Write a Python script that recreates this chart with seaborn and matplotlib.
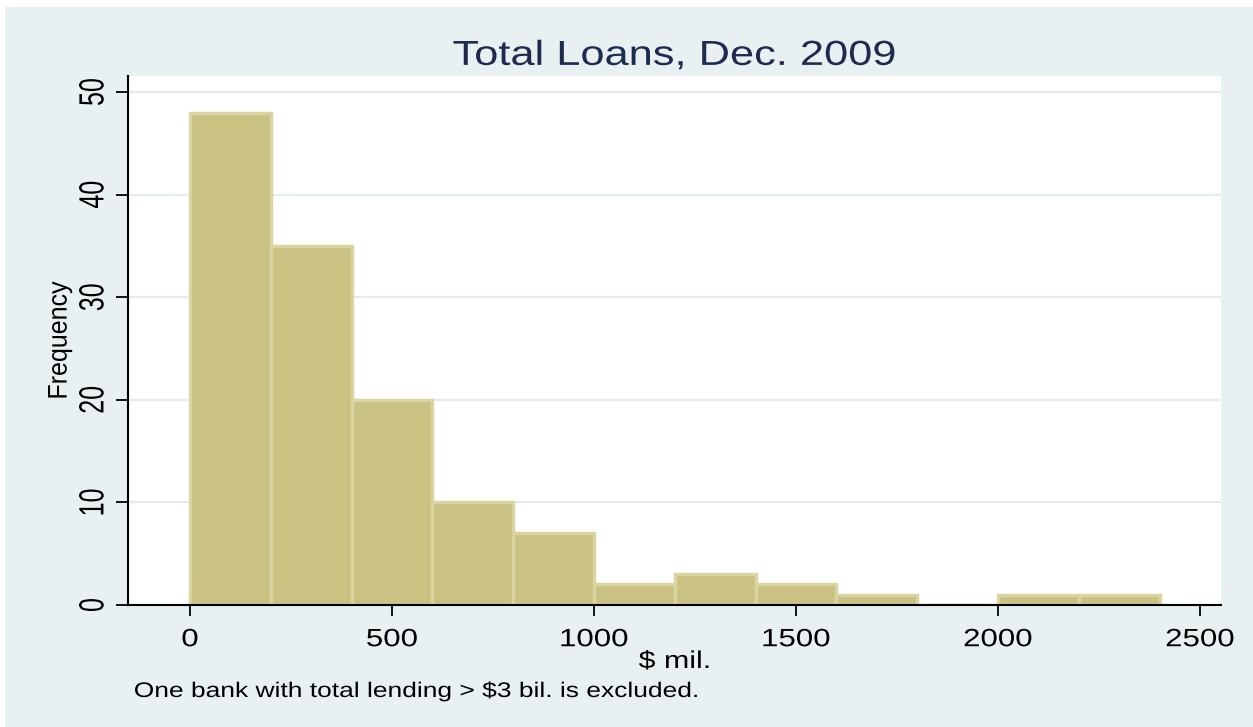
import numpy as np
import pandas as pd
import matplotlib
matplotlib.use("Agg")
import matplotlib.pyplot as plt
import seaborn as sns
from matplotlib.patheffects import AbstractPathEffect
from matplotlib.transforms import Affine2D
from matplotlib.patches import Rectangle

# ---- data ----
bin_edges = [0, 200, 400, 600, 800, 1000, 1200, 1400, 1600, 1800, 2000, 2200, 2400]
counts = [48, 35, 20, 10, 7, 2, 3, 2, 1, 0, 1, 1]
x_ticks = [0, 500, 1000, 1500, 2000, 2500]
y_ticks = [0, 10, 20, 30, 40, 50]
title = "Total Loans, Dec. 2009"
x_label = "$ mil."
y_label = "Frequency"
note = "One bank with total lending > $3 bil. is excluded."

mids = [(a + b) / 2 for a, b in zip(bin_edges[:-1], bin_edges[1:])]
df = pd.DataFrame({"loans": mids, "n": counts})


class HStretch(AbstractPathEffect):
    """Stretch rendered text horizontally (the reference is horizontally stretched)."""
    def __init__(self, sx=1.25, anchor="center"):
        super().__init__()
        self.sx = sx
        self.anchor = anchor

    def draw_path(self, renderer, gc, tpath, affine, rgbFace=None):
        ext = tpath.get_extents(affine)
        if self.anchor == "left":
            cx = ext.x0
        elif self.anchor == "right":
            cx = ext.x1
        else:
            cx = (ext.x0 + ext.x1) / 2
        t = affine + Affine2D().translate(-cx, 0).scale(self.sx, 1).translate(cx, 0)
        renderer.draw_path(gc, tpath, t, rgbFace)


sns.set_style("ticks")
plt.rcParams["font.family"] = ["Liberation Sans", "DejaVu Sans"]

W, H = 1253, 727
fig = plt.figure(figsize=(W / 100, H / 100), dpi=100, facecolor="white")
bg = "#E8F0F2"
fig.patches.append(Rectangle((5 / W, 0), 1 - 5 / W, (H - 7) / H, transform=fig.transFigure,
                             facecolor=bg, edgecolor="none", zorder=-10))

ax = fig.add_axes([128 / W, 1 - 605 / H, (1221 - 128) / W, (605 - 76) / H])
ax.set_facecolor("white")

sns.histplot(data=df, x="loans", weights="n", bins=bin_edges, ax=ax,
             color="#C9C283", edgecolor="#DAD5A0", linewidth=2.4, alpha=1.0, zorder=2)

ax.set_xlim(-153.5, 2552)
ax.set_ylim(0, 51.56)
ax.set_xticks(x_ticks)
ax.set_yticks(y_ticks)
ax.set_xticklabels([str(v) for v in x_ticks])
ax.set_yticklabels([str(v) for v in y_ticks])

ax.grid(axis="y", color="#E4ECEF", linewidth=1.6, zorder=0)
ax.grid(axis="x", visible=False)
ax.set_axisbelow(True)

for s in ["top", "right"]:
    ax.spines[s].set_visible(False)
for s in ["left", "bottom"]:
    ax.spines[s].set_color("black")
    ax.spines[s].set_linewidth(1.5)
    ax.spines[s].set_zorder(5)

ax.tick_params(axis="x", direction="out", length=8, width=1.3, pad=8, labelsize=18, colors="black")
ax.tick_params(axis="y", direction="out", length=8.5, width=1.3, pad=5.5, labelsize=18,
               colors="black", labelrotation=90)
for lbl in ax.get_xticklabels():
    lbl.set_path_effects([HStretch(1.25, "center")])
for lbl in ax.get_yticklabels():
    lbl.set_va("center")
    lbl.set_path_effects([HStretch(1.4, "right")])

ax.set_title(title, fontsize=25, color="#1E2A50", pad=8,
             path_effects=[HStretch(1.25, "center")])

ax.set_xlabel(x_label, fontsize=17.5, color="black")
ax.xaxis.label.set_va("baseline")
ax.xaxis.set_label_coords(0.5, (605 - 668) / 529)
ax.xaxis.label.set_path_effects([HStretch(1.25, "center")])

ax.set_ylabel(y_label, fontsize=18, color="black")
ax.yaxis.set_label_coords((72 - 128) / 1093, 0.5)
ax.yaxis.label.set_path_effects([HStretch(1.08, "right")])

fig.text(134 / W, 1 - 697 / H, note, fontsize=15.2, color="black", ha="left", va="baseline",
         path_effects=[HStretch(1.25, "left")])

fig.savefig("out.png", dpi=100, facecolor=fig.get_facecolor())
